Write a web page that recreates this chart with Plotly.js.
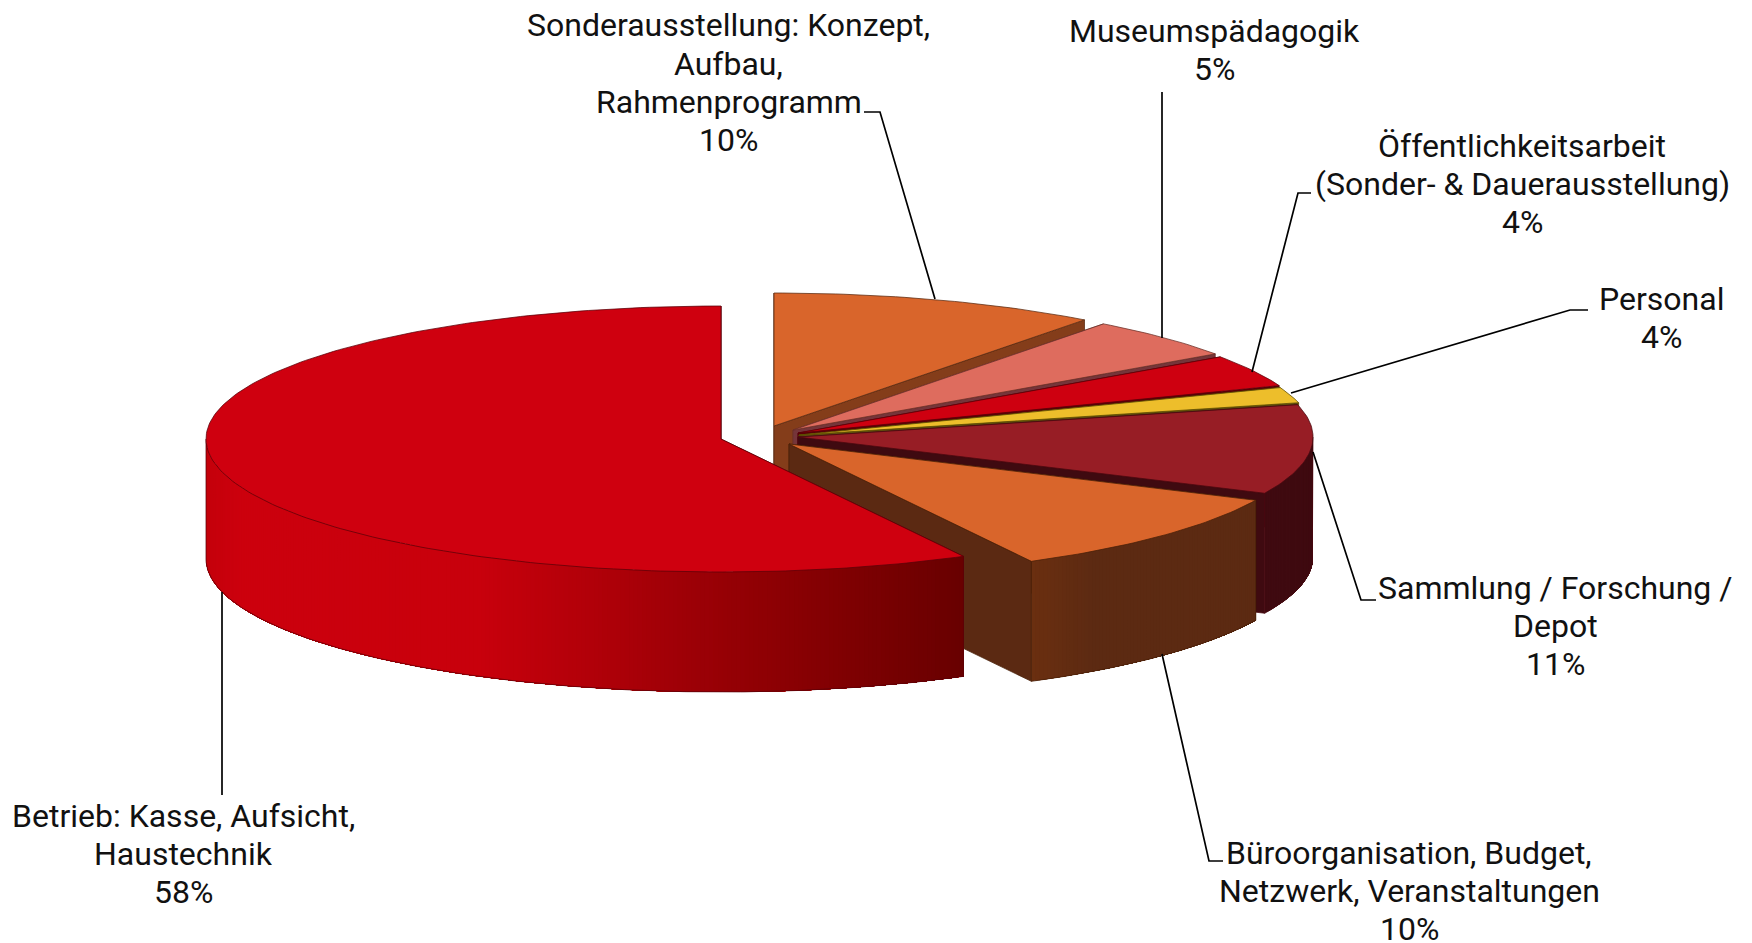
<!DOCTYPE html>
<html><head><meta charset="utf-8">
<script src="https://cdn.plot.ly/plotly-3.0.1.min.js"></script>
<style>html,body{margin:0;padding:0;background:#fff}#chart{width:1752px;height:943px}</style>
</head><body><div id="chart"></div>
<script>
// ---- data (share of the full circle, %) ----
const categories = ["Sonderausstellung: Konzept,<br>Aufbau,<br>Rahmenprogramm",
  "Museumspädagogik",
  "Öffentlichkeitsarbeit<br>(Sonder- &amp; Dauerausstellung)",
  "Personal",
  "Sammlung / Forschung /<br>Depot",
  "Büroorganisation, Budget,<br>Netzwerk, Veranstaltungen",
  "Betrieb: Kasse, Aufsicht,<br>Haustechnik"];
const shares = [10.3, 5.0, 3.9, 1.9, 10.85, 10.25, 57.8];
const percentLabels = ["10%", "5%", "4%", "4%", "11%", "10%", "58%"];
// ---- styling ----
const topColors  = ["#D9652B", "#DE6C5E", "#CE0010", "#EDBE2B", "#971D25", "#D9652B", "#CF000F"];
const wallColors = ["#843D1A", "#75353A", "#5A0008", "#5F4F10", "#3F0A10", "#5B2912", "#6B0000"];
const edgeColors = ["#5a2a10", "#6a3028", "#5a0008", "#5a4a00", "#4a0a10", "#4a2008", "#5a0008"];
// exploded apex of each slice on the page
const apexX = [774, 793, 798, 799, 798, 789, 721];
const apexY = [426, 430, 433, 435, 437, 444, 439];
const RX = 515, RY = 133, DEPTH = 120;
// label block centres and leader lines
const labelX = [728.5, 1214.5, 1522, 1661, 1555, 1409, 183];
const labelY = [82.7, 50, 184, 318, 626, 891, 854];
const LINE_STEP = 38.4;
const leaderX = [[864,880,935],[1162,1162],[1311,1298,1252],[1588,1570,1291],[1376,1361,1313],[1223,1209,1162],[222,222]];
const leaderY = [[112,112,299],[92,338],[193,193,372],[310,310,393],[600,600,452],[861,861,654],[795,592]];

const traces = [];
const poly = (xs, ys, fill, line, w) => traces.push({type:"scatter", mode:"lines", x:xs, y:ys,
  fill:"toself", fillcolor:fill, line:{color:line, width:w===undefined?0.75:w}, hoverinfo:"skip", showlegend:false});
const hex = c => [1,3,5].map(i => parseInt(c.substr(i,2),16));
function ramp(stops, x){
  if (x <= stops[0][0]) return stops[0][1];
  for (let i=1;i<stops.length;i++) if (x <= stops[i][0]) {
    const t=(x-stops[i-1][0])/(stops[i][0]-stops[i-1][0]), a=hex(stops[i-1][1]), b=hex(stops[i][1]);
    return "rgb("+a.map((v,k)=>Math.round(v+(b[k]-v)*t)).join(",")+")";
  }
  return stops[stops.length-1][1];
}
const wallRamps = {
  6: [[206,"#C4000C"],[240,"#CC000D"],[480,"#C8000C"],[694,"#9C0006"],[800,"#880003"],[964,"#680000"]],
  5: [[1030,"#6B2F10"],[1095,"#5C2A12"]]
};
let start = 0;
shares.forEach((s,i) => {
  const a0 = start, a1 = start + s*3.6; start = a1;
  const cx = apexX[i], cy = apexY[i];
  const px = d => cx + RX*Math.sin(d*Math.PI/180), py = d => cy - RY*Math.cos(d*Math.PI/180);
  const wall = d => poly([cx,px(d),px(d),cx,cx],[cy,py(d),py(d)+DEPTH,cy+DEPTH,cy],wallColors[i],edgeColors[i]);
  // radial walls: the one facing away first
  wall(a0); wall(a1);
  // outer rim, only the part that faces the viewer
  const f0 = Math.max(a0,90), f1 = Math.min(a1,270);
  if (f1 > f0) {
    const n = Math.max(2, Math.ceil((f1-f0)/0.5)), stops = wallRamps[i] || [[0,wallColors[i]]];
    // drawn from the far end; each strip reaches back to the rim start, so no seams show
    for (let k=n-1;k>=0;k--){
      const d0=f0+(f1-f0)*k/n, d1=f0+(f1-f0)*(k+1)/n;
      const c = ramp(stops,(px(d0)+px(d1))/2);
      const xs=[],ys=[],st=Math.max(1,Math.ceil((d1-f0)/1.5));
      for (let j=0;j<=st;j++){const d=f0+(d1-f0)*j/st;xs.push(px(d));ys.push(py(d));}
      for (let j=st;j>=0;j--){const d=f0+(d1-f0)*j/st;xs.push(px(d));ys.push(py(d)+DEPTH);}
      xs.push(xs[0]);ys.push(ys[0]);
      traces.push({type:"scatter",mode:"none",x:xs,y:ys,fill:"toself",fillcolor:c,hoverinfo:"skip",showlegend:false});
    }
    // rim outline along the bottom and the vertical end edges
    const bx=[],by=[];
    for (let k=0;k<=n;k++){const d=f0+(f1-f0)*k/n;bx.push(px(d));by.push(py(d)+DEPTH);}
    traces.push({type:"scatter",mode:"lines",x:[px(f0)].concat(bx,[px(f1)]),y:[py(f0)].concat(by,[py(f1)]),
      line:{color:edgeColors[i],width:0.75},hoverinfo:"skip",showlegend:false});
  }
  // top face
  const tx=[cx], ty=[cy], m=Math.ceil((a1-a0)/1);
  for (let k=0;k<=m;k++){const d=a0+(a1-a0)*k/m;tx.push(px(d));ty.push(py(d));}
  tx.push(cx); ty.push(cy);
  poly(tx,ty,topColors[i],edgeColors[i]);
});
// leader lines
leaderX.forEach((xs,i)=>traces.push({type:"scatter",mode:"lines",x:xs,y:leaderY[i],
  line:{color:"#000",width:1.7},hoverinfo:"skip",showlegend:false}));

// every label line is its own annotation so the line spacing can be matched
const annotations = [];
categories.forEach((c,i)=>{
  const lines = c.split("<br>").concat([percentLabels[i]]);
  lines.forEach((t,k)=>annotations.push({
    xref:"x",yref:"y",x:labelX[i],y:labelY[i]+(k-(lines.length-1)/2)*LINE_STEP,text:t,showarrow:false,
    xanchor:"center",yanchor:"middle",align:"center",height:36,
    font:{family:"Roboto, sans-serif",size:32,color:"#111"}
  }));
});
Plotly.newPlot("chart",traces,{
  width:1752,height:943,margin:{l:0,r:0,t:0,b:0},paper_bgcolor:"#fff",plot_bgcolor:"#fff",
  showlegend:false,hovermode:false,annotations,
  xaxis:{range:[0,1752],visible:false,fixedrange:true},
  yaxis:{range:[943,0],visible:false,fixedrange:true}
},{displayModeBar:false,staticPlot:true});
</script></body></html>
